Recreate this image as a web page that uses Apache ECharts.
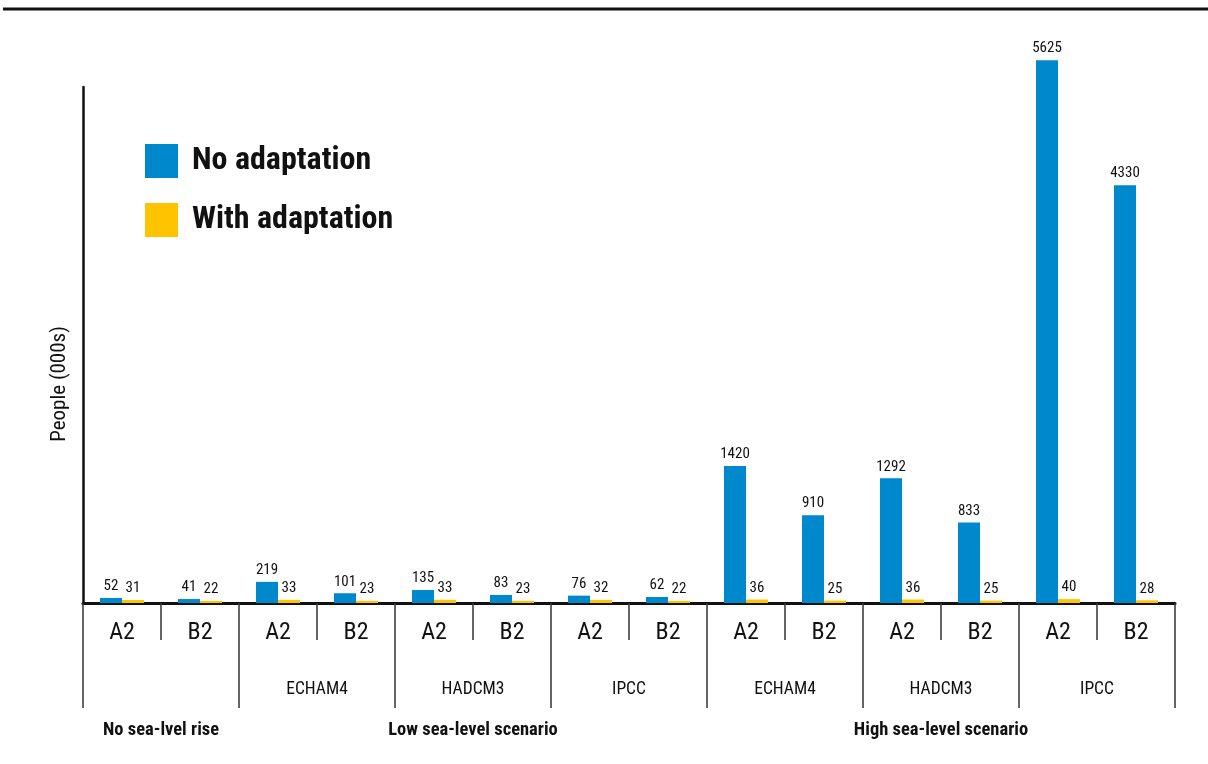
<!DOCTYPE html>
<html><head><meta charset="utf-8">
<script src="https://cdn.jsdelivr.net/npm/echarts@6/dist/echarts.min.js"></script>
<style>html,body{margin:0;padding:0;background:#fff}#c{width:1208px;height:764px}</style>
</head><body><div id="c"></div>
<script>
const categories = ['A2','B2','A2','B2','A2','B2','A2','B2','A2','B2','A2','B2','A2','B2'];
const models = ['', 'ECHAM4', 'HADCM3', 'IPCC', 'ECHAM4', 'HADCM3', 'IPCC'];
const scenarios = [
  {pos: 1, label: 'No sea-lvel rise'},
  {pos: 5, label: 'Low sea-level scenario'},
  {pos: 11, label: 'High sea-level scenario'}
];
const noAdaptation = [52, 41, 219, 101, 135, 83, 76, 62, 1420, 910, 1292, 833, 5625, 4330];
const withAdaptation = [31, 22, 33, 23, 33, 23, 32, 22, 36, 25, 36, 25, 40, 28];
const seriesNames = ['No adaptation', 'With adaptation'];

const FONT = '"Roboto Condensed", "DejaVu Sans Condensed", sans-serif';
const BLUE = '#0088cc', YELLOW = '#ffc400';
const chart = echarts.init(document.getElementById('c'));
const scenMap = {};
scenarios.forEach(s => scenMap[s.pos] = s.label);
const lbl = {show: true, position: 'top', distance: 4, color: '#111', fontFamily: FONT, fontSize: 15};
chart.setOption({
  animation: false,
  textStyle: {fontFamily: FONT},
  graphic: [{type: 'line', shape: {x1: 3, y1: 9, x2: 1208, y2: 9}, style: {stroke: '#111', lineWidth: 3}}],
  legend: {
    orient: 'vertical', left: 145, top: 144, padding: 0, itemWidth: 33, itemHeight: 34, itemGap: 25,
    icon: 'rect', textStyle: {fontFamily: FONT, fontWeight: 'bold', fontSize: 32, color: '#111', padding: [2,0,0,9]},
    data: seriesNames
  },
  grid: [
    {left: 83, right: 33, top: 24, bottom: 161},
    {left: 83, right: 33, top: 87, bottom: 161}
  ],
  xAxis: [
    {type: 'category', gridIndex: 0, data: categories, position: 'bottom',
     axisLine: {lineStyle: {color: '#111', width: 3}},
     axisTick: {show: true, interval: 0, length: 37, lineStyle: {color: '#333', width: 1.5}},
     axisLabel: {interval: 0, margin: 18, fontSize: 24, color: '#111', fontFamily: FONT}},
    {type: 'category', gridIndex: 0, data: models, position: 'bottom',
     axisLine: {show: false},
     axisTick: {show: true, interval: 0, length: 105, lineStyle: {color: '#333', width: 1.5}},
     axisLabel: {interval: 0, margin: 78, fontSize: 17.5, color: '#111', fontFamily: FONT}},
    {type: 'value', gridIndex: 0, min: 0, max: 14, interval: 0.5, position: 'bottom',
     axisLine: {show: false}, axisTick: {show: false}, splitLine: {show: false},
     axisLabel: {margin: 118, fontSize: 18.5, fontWeight: 'bold', color: '#111', fontFamily: FONT,
       formatter: v => scenMap[v] || ''}},
    {type: 'category', gridIndex: 1, data: categories, show: false}
  ],
  yAxis: [
    {type: 'value', gridIndex: 0, min: 0, max: 6000, show: false, splitLine: {show: false}},
    {type: 'value', gridIndex: 1, min: 0, max: 1,
     axisLine: {show: true, lineStyle: {color: '#111', width: 2.5}},
     axisTick: {show: false}, axisLabel: {show: false}, splitLine: {show: false},
     name: 'People (000s)', nameLocation: 'middle', nameGap: 13,
     nameTextStyle: {fontFamily: FONT, fontSize: 21, color: '#111', padding: [0, 78, 0, 0]}}
  ],
  series: [
    {name: seriesNames[0], type: 'bar', xAxisIndex: 0, yAxisIndex: 0, data: noAdaptation,
     barWidth: 22, barGap: '0%', itemStyle: {color: BLUE}, label: lbl},
    {name: seriesNames[1], type: 'bar', xAxisIndex: 0, yAxisIndex: 0, data: withAdaptation,
     barWidth: 22, barGap: '0%', itemStyle: {color: YELLOW}, label: lbl}
  ]
});
</script></body></html>
